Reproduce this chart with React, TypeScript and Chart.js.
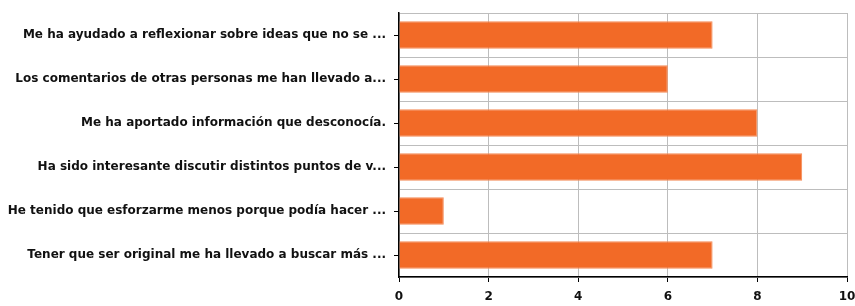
import React, { useEffect, useRef } from "react";
import { Chart, registerables } from "chart.js";
Chart.register(...registerables);

const categories = [
  "Me ha ayudado a reflexionar sobre ideas que no se ...",
  "Los comentarios de otras personas me han llevado a...",
  "Me ha aportado información que desconocía.",
  "Ha sido interesante discutir distintos puntos de v...",
  "He tenido que esforzarme menos porque podía hacer ...",
  "Tener que ser original me ha llevado a buscar más ...",
];
const values = [7, 6, 8, 9, 1, 7];
const xMin = 0;
const xMax = 10;
const xStep = 2;

export default function App() {
  const ref = useRef<HTMLCanvasElement>(null);
  useEffect(() => {
    const font = { family: "DejaVu Sans", size: 12, weight: "bold" as const };
    const chart = new Chart(ref.current!, {
      type: "bar",
      data: {
        labels: categories,
        datasets: [
          {
            data: values,
            backgroundColor: "#F26A27",
            borderColor: "#F48A55",
            borderWidth: 1,
            categoryPercentage: 1,
            barPercentage: 0.63,
            yAxisID: "y",
          },
        ],
      },
      options: {
        indexAxis: "y",
        animation: false,
        responsive: false,
        maintainAspectRatio: false,
        layout: { padding: { top: 13, right: 8, left: 0, bottom: 0 } },
        plugins: { legend: { display: false }, tooltip: { enabled: false } },
        scales: {
          x: {
            type: "linear",
            min: xMin,
            max: xMax,
            ticks: { stepSize: xStep, color: "#111", font, padding: 8 },
            grid: { color: "#bdbdbd", tickColor: "#000", tickLength: 5, lineWidth: 1 },
            border: { color: "#000", width: 1.5 },
            afterFit: (s: any) => {
              s.height = 29;
              s.paddingLeft = 0;
              s.paddingRight = 0;
            },
          },
          y: {
            type: "category",
            offset: true,
            ticks: { color: "#111", font, padding: 8, autoSkip: false },
            grid: {
              offset: false,
              drawOnChartArea: false,
              tickColor: "#000",
              tickLength: 5,
            },
            border: { color: "#000", width: 1.5 },
            afterFit: (s: any) => {
              s.width = 399;
              s.paddingTop = 0;
              s.paddingBottom = 0;
            },
          },
          y2: {
            type: "category",
            labels: categories,
            position: "right",
            offset: true,
            ticks: { display: false },
            grid: { offset: true, drawTicks: false, color: "#bdbdbd" },
            border: { display: false },
            afterFit: (s: any) => {
              s.width = 0;
              s.paddingTop = 0;
              s.paddingBottom = 0;
            },
          },
        },
      },
    });
    return () => chart.destroy();
  }, []);
  return (
    <div style={{ position: "fixed", left: 0, top: 0, width: 855, height: 306, background: "#fff" }}>
      <canvas ref={ref} width={855} height={306} style={{ width: 855, height: 306 }} />
    </div>
  );
}
